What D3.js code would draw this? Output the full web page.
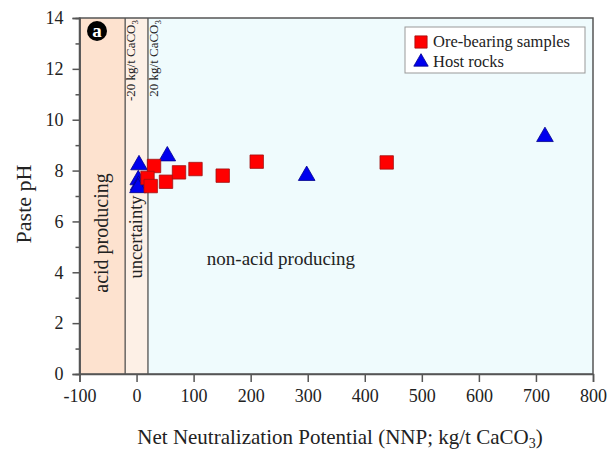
<!DOCTYPE html>
<html><head><meta charset="utf-8">
<script src="https://cdn.jsdelivr.net/npm/d3@7"></script>
<style>body{margin:0;background:#fff}svg{display:block}svg text{font-family:"Liberation Serif","Times New Roman",serif}</style>
</head><body><svg id="c" width="612" height="450"></svg>
<script>
const oreX = [30.6, 19.2, 24.8, 51.6, 74.4, 103.3, 151, 210.6, 438.4];
const oreY = [8.18, 7.71, 7.39, 7.56, 7.93, 8.06, 7.80, 8.35, 8.32];
const hostX = [4.3, 53.9, 3.0, 3.5, 2.5, 298.2, 715.8];
const hostY = [8.22, 8.57, 7.63, 7.42, 7.32, 7.80, 9.33];
const xTicks = [-100, 0, 100, 200, 300, 400, 500, 600, 700, 800];
const yTicks = [0, 2, 4, 6, 8, 10, 12, 14];
const yMinor = [1, 3, 5, 7, 9, 11, 13];
const zones = [
  {from: -100, to: -20, fill: "#fde2cf"},
  {from: -20, to: 20, fill: "#fdf0e6"},
  {from: 20, to: 800, fill: "#effbfd"}
];

const svg = d3.select("#c");
const L = 79.5, R = 593, T = 18, B = 374;
const x = d3.scaleLinear().domain([-100, 800]).range([L, R]);
const y = d3.scaleLinear().domain([0, 14]).range([B, T]);

svg.selectAll("rect.zone").data(zones).enter().append("rect")
  .attr("x", d => x(d.from)).attr("width", d => x(d.to) - x(d.from))
  .attr("y", T).attr("height", B - T).attr("fill", d => d.fill);
svg.selectAll("line.div").data([-20, 20]).enter().append("line")
  .attr("x1", d => x(d)).attr("x2", d => x(d)).attr("y1", T).attr("y2", B)
  .attr("stroke", "#444").attr("stroke-width", 1.2);

svg.append("rect").attr("x", L).attr("y", T).attr("width", R - L).attr("height", B - T)
  .attr("fill", "none").attr("stroke", "#555").attr("stroke-width", 1.5);

const xa = svg.append("g").attr("transform", `translate(0,${B})`)
  .call(d3.axisBottom(x).tickValues(xTicks).tickSize(8).tickPadding(7).tickFormat(d => String(d)));
const ya = svg.append("g").attr("transform", `translate(${L},0)`)
  .call(d3.axisLeft(y).tickValues(yTicks).tickSize(7).tickPadding(9).tickFormat(d => String(d)));
const ym = svg.append("g").attr("transform", `translate(${L},0)`)
  .call(d3.axisLeft(y).tickValues(yMinor).tickSize(4).tickFormat(""));
[xa, ya, ym].forEach(g => {
  g.attr("font-family", null).attr("font-size", 18);
  g.select(".domain").attr("stroke", "#555").attr("stroke-width", 1.5);
  g.selectAll(".tick line").attr("stroke", "#555").attr("stroke-width", 1.5);
  g.selectAll("text").attr("fill", "#222");
});

function vtext(px, py, txt, size, anchor) {
  return svg.append("text").attr("transform", `translate(${px},${py}) rotate(-90)`)
    .attr("text-anchor", anchor).attr("font-size", size).attr("fill", "#222").text(txt);
}
vtext(108, 233, "acid producing", 20, "middle");
vtext(142, 237, "uncertainty", 18.5, "middle");
const t1 = vtext(135, 20, "", 13, "end");
t1.append("tspan").text("-20 kg/t CaCO");
t1.append("tspan").attr("dy", 3).attr("font-size", 9).text("3");
const t2 = vtext(158, 20, "", 13, "end");
t2.append("tspan").text("20 kg/t CaCO");
t2.append("tspan").attr("dy", 3).attr("font-size", 9).text("3");
svg.append("text").attr("x", 281).attr("y", 265).attr("text-anchor", "middle")
  .attr("font-size", 19).attr("fill", "#222").text("non-acid producing");

svg.append("circle").attr("cx", 97).attr("cy", 31).attr("r", 10).attr("fill", "#000");
svg.append("text").attr("x", 97).attr("y", 37).attr("text-anchor", "middle")
  .attr("font-size", 19).attr("font-weight", "bold").attr("fill", "#fff").text("a");

const ore = oreX.map((v, i) => [v, oreY[i]]);
const host = hostX.map((v, i) => [v, hostY[i]]);
svg.selectAll("path.host").data(host).enter().append("path")
  .attr("d", d3.symbol(d3.symbolTriangle, 120))
  .attr("transform", d => `translate(${x(d[0])},${y(d[1])})`)
  .attr("fill", "#0000ee").attr("stroke", "#00008a").attr("stroke-width", 0.8);
svg.selectAll("path.ore").data(ore).enter().append("path")
  .attr("d", d3.symbol(d3.symbolSquare, 180))
  .attr("transform", d => `translate(${x(d[0])},${y(d[1])})`)
  .attr("fill", "#ff0000").attr("stroke", "#a01010").attr("stroke-width", 0.8);

const lg = svg.append("g");
lg.append("rect").attr("x", 405).attr("y", 27).attr("width", 180).attr("height", 46)
  .attr("fill", "#fff").attr("stroke", "#999").attr("stroke-width", 1);
lg.append("path").attr("d", d3.symbol(d3.symbolSquare, 150)).attr("transform", "translate(421,42)")
  .attr("fill", "#ff0000").attr("stroke", "#a01010").attr("stroke-width", 0.8);
lg.append("path").attr("d", d3.symbol(d3.symbolTriangle, 90)).attr("transform", "translate(421,62)")
  .attr("fill", "#0000ee").attr("stroke", "#00008a").attr("stroke-width", 0.8);
lg.append("text").attr("x", 433).attr("y", 47).attr("font-size", 16.5).attr("fill", "#222").text("Ore-bearing samples");
lg.append("text").attr("x", 433).attr("y", 67).attr("font-size", 16.5).attr("fill", "#222").text("Host rocks");

const xt = svg.append("text").attr("x", 340).attr("y", 444).attr("text-anchor", "middle")
  .attr("font-size", 21).attr("fill", "#222");
xt.append("tspan").text("Net Neutralization Potential (NNP; kg/t CaCO");
xt.append("tspan").attr("dy", 4).attr("font-size", 14).text("3");
xt.append("tspan").attr("dy", -4).text(")");
svg.append("text").attr("transform", "translate(31,204) rotate(-90)").attr("text-anchor", "middle")
  .attr("font-size", 22).attr("fill", "#222").text("Paste pH");
</script></body></html>
